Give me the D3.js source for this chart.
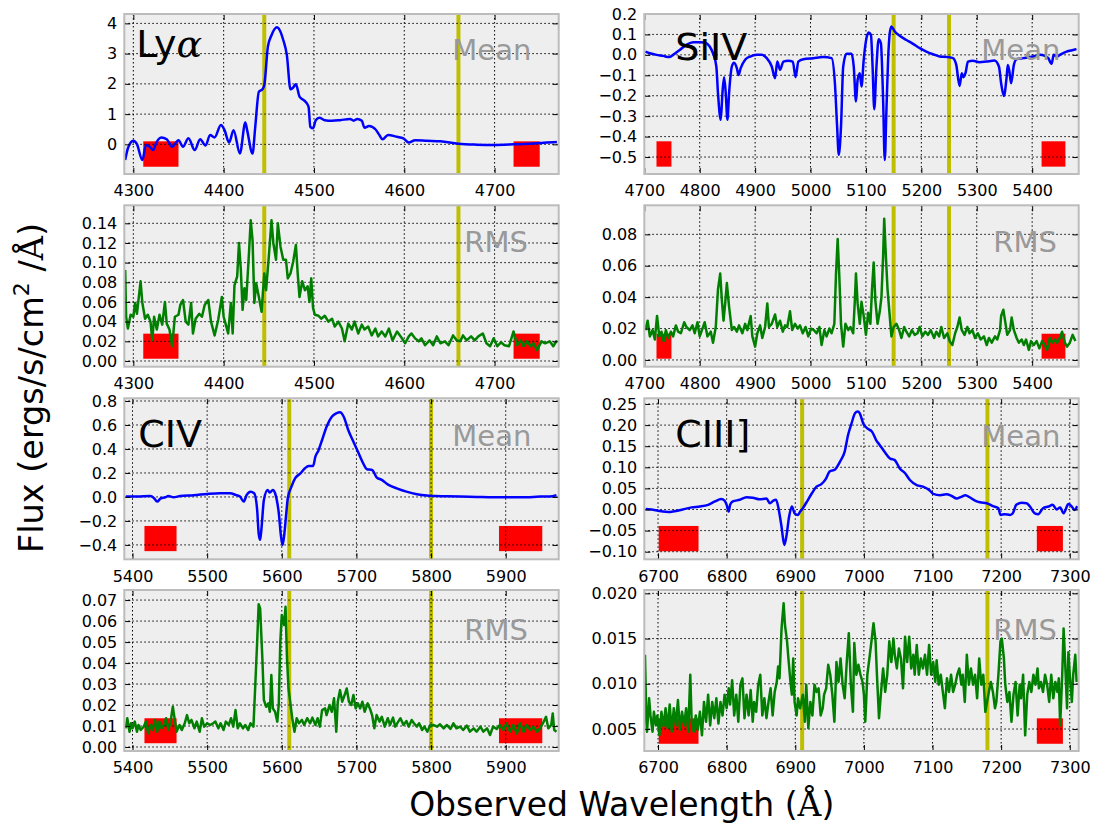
<!DOCTYPE html>
<html><head><meta charset="utf-8">
<script src="https://cdn.jsdelivr.net/npm/d3@7"></script>
<style>body{margin:0;background:#fff}svg{display:block}text{font-family:"DejaVu Sans",sans-serif}</style>
</head><body>
<svg id="c" width="1096" height="823"></svg>
<script>
// ---------- DATA ----------
const lineNames = ["Ly", "SiIV", "CIV", "CIII]"];
const xDomains = [[4290, 4771], [4700, 5484], [5389, 5971], [6680, 7313]];
const xTickValues = [
  [4300, 4400, 4500, 4600, 4700],
  [4700, 4800, 4900, 5000, 5100, 5200, 5300, 5400],
  [5400, 5500, 5600, 5700, 5800, 5900],
  [6700, 6800, 6900, 7000, 7100, 7200, 7300]
];
const meanYDomains = [[-0.98, 4.31], [-0.583, 0.2], [-0.52, 0.8225], [-0.118, 0.2635]];
const rmsYDomains = [[-0.0058, 0.1583], [-0.0043, 0.0985], [-0.0019, 0.0748], [0.00257, 0.02037]];
const meanYTicks = [
  [0, 1, 2, 3, 4],
  [-0.5, -0.4, -0.3, -0.2, -0.1, 0.0, 0.1, 0.2],
  [-0.4, -0.2, 0.0, 0.2, 0.4, 0.6, 0.8],
  [-0.10, -0.05, 0.00, 0.05, 0.10, 0.15, 0.20, 0.25]
];
const meanYDecimals = [0, 1, 1, 2];
const rmsYTicks = [
  [0.00, 0.02, 0.04, 0.06, 0.08, 0.10, 0.12, 0.14],
  [0.00, 0.02, 0.04, 0.06, 0.08],
  [0.00, 0.01, 0.02, 0.03, 0.04, 0.05, 0.06, 0.07],
  [0.005, 0.010, 0.015, 0.020]
];
const rmsYDecimals = [2, 2, 2, 3];
const lineWindows = [[4445, 4660], [5150, 5250], [5610, 5800], [6910, 7180]];
const contWindows = [
  [[4311, 4350], [4721, 4750]],
  [[4722, 4749], [5417, 5460]],
  [[5416, 5459], [5891, 5949]],
  [[6701, 6759], [7252, 7290]]
];
const meanBoxY = [[-0.74, 0.10], [-0.547, -0.423], [-0.452, -0.242], [-0.099, -0.039]];
const rmsBoxY = [[0.0023, 0.0278], [0.0008, 0.0167], [0.0018, 0.0137], [0.00337, 0.00618]];

const lyaMean = [[4291,-0.52],[4294,-0.13],[4300,0.12],[4304,0.01],[4310,-0.52],[4314,-0.02],[4318,-0.08],[4322,-0.19],[4325,0.03],[4331,0.23],[4337,0.17],[4343,-0.08],[4350,0.14],[4355,-0.08],[4361,0.2],[4368,-0.19],[4374,0.17],[4380,-0.04],[4385,0.31],[4390,0.23],[4397,0.64],[4401,0.47],[4406,0.06],[4411,0.47],[4418,-0.3],[4424,0.72],[4426,0.47],[4432,-0.3],[4435,0.58],[4439,1.74],[4443,1.82],[4445,1.96],[4449,3.23],[4453,3.61],[4459,3.87],[4461,3.83],[4466,3.45],[4470,2.95],[4474,1.82],[4477,1.88],[4480,1.99],[4484,1.58],[4490,1.43],[4494,1.25],[4496,0.58],[4499,0.53],[4502,0.8],[4506,0.88],[4512,0.8],[4520,0.78],[4529,0.8],[4540,0.84],[4544,0.78],[4548,0.84],[4553,0.78],[4556,0.55],[4561,0.61],[4568,0.5],[4572,0.33],[4576,0.17],[4582,0.31],[4592,0.25],[4599,0.2],[4605,0.06],[4612,0.14],[4625,0.12],[4640,0.1],[4660,0.02],[4680,-0.01],[4699,-0.02],[4721,0],[4743,0.03],[4758,0.06],[4769,0.08]];

const lyaRms = [[4291,0.0925],[4292,0.045],[4294,0.033],[4297,0.047],[4300,0.045],[4302,0.059],[4304,0.048],[4308,0.081],[4310,0.059],[4313,0.043],[4316,0.047],[4319,0.040],[4321,0.021],[4323,0.045],[4326,0.032],[4329,0.047],[4332,0.037],[4335,0.060],[4337,0.038],[4340,0.032],[4343,0.015],[4346,0.045],[4350,0.047],[4352,0.057],[4355,0.062],[4358,0.040],[4361,0.037],[4364,0.059],[4366,0.028],[4369,0.043],[4373,0.048],[4376,0.045],[4379,0.057],[4383,0.062],[4386,0.040],[4390,0.026],[4394,0.042],[4398,0.065],[4400,0.045],[4403,0.035],[4405,0.028],[4408,0.059],[4410,0.028],[4412,0.077],[4415,0.086],[4417,0.120],[4419,0.093],[4421,0.052],[4423,0.074],[4425,0.062],[4428,0.109],[4430,0.143],[4432,0.123],[4434,0.059],[4436,0.079],[4439,0.065],[4442,0.050],[4445,0.089],[4447,0.072],[4450,0.106],[4453,0.143],[4455,0.120],[4458,0.103],[4460,0.140],[4463,0.116],[4466,0.103],[4469,0.103],[4471,0.084],[4474,0.089],[4477,0.101],[4480,0.118],[4482,0.089],[4484,0.065],[4487,0.081],[4490,0.072],[4493,0.076],[4495,0.060],[4497,0.084],[4499,0.054],[4501,0.047],[4505,0.046],[4508,0.043],[4512,0.046],[4516,0.040],[4520,0.043],[4523,0.035],[4527,0.040],[4531,0.033],[4534,0.020],[4538,0.038],[4542,0.032],[4545,0.040],[4549,0.028],[4553,0.037],[4556,0.032],[4560,0.035],[4564,0.026],[4568,0.033],[4571,0.025],[4575,0.030],[4579,0.025],[4583,0.033],[4587,0.021],[4592,0.030],[4596,0.025],[4601,0.018],[4605,0.025],[4608,0.028],[4612,0.023],[4616,0.020],[4619,0.023],[4623,0.016],[4628,0.021],[4632,0.016],[4636,0.025],[4640,0.018],[4645,0.020],[4649,0.016],[4654,0.026],[4658,0.021],[4662,0.020],[4665,0.026],[4669,0.021],[4674,0.025],[4678,0.021],[4682,0.025],[4687,0.028],[4691,0.018],[4695,0.015],[4699,0.023],[4703,0.015],[4707,0.019],[4711,0.016],[4716,0.015],[4721,0.030],[4725,0.016],[4729,0.021],[4732,0.015],[4736,0.020],[4740,0.015],[4743,0.018],[4747,0.011],[4752,0.020],[4756,0.018],[4761,0.020],[4765,0.015],[4769,0.021]];

const siivMean = [[4702,0.016],[4710,0.008],[4722,0],[4734,-0.005],[4745,-0.011],[4752,0],[4764,0.024],[4776,0.049],[4788,0.062],[4800,0.062],[4809,0.06],[4818,0.041],[4824,0.008],[4830,-0.057],[4833,-0.188],[4838,-0.318],[4841,-0.188],[4844,-0.109],[4847,-0.188],[4850,-0.318],[4853,-0.188],[4858,-0.057],[4862,-0.038],[4867,-0.065],[4870,-0.098],[4874,-0.065],[4882,-0.024],[4891,-0.008],[4903,0],[4912,0],[4921,-0.016],[4930,-0.057],[4936,-0.114],[4940,-0.033],[4945,-0.073],[4951,-0.033],[4960,-0.029],[4968,-0.033],[4973,-0.109],[4978,-0.033],[4987,-0.021],[5005,-0.016],[5023,-0.011],[5038,-0.016],[5044,-0.139],[5048,-0.351],[5051,-0.489],[5055,-0.351],[5059,-0.057],[5065,0.005],[5074,0.005],[5078,-0.057],[5082,-0.228],[5085,-0.122],[5089,-0.09],[5092,-0.155],[5096,-0.024],[5101,0.082],[5105,0.109],[5109,0.098],[5112,-0.057],[5115,-0.266],[5119,-0.057],[5123,0.077],[5127,0.057],[5131,-0.22],[5134,-0.514],[5137,-0.269],[5140,-0.024],[5143,0.106],[5146,0.139],[5152,0.114],[5161,0.093],[5173,0.073],[5185,0.054],[5197,0.033],[5209,0.016],[5221,0.003],[5233,-0.008],[5248,-0.011],[5257,-0.016],[5263,-0.049],[5269,-0.152],[5273,-0.09],[5276,-0.109],[5280,-0.086],[5284,-0.033],[5293,-0.029],[5305,-0.036],[5317,-0.033],[5332,-0.028],[5340,-0.057],[5344,-0.139],[5349,-0.201],[5354,-0.106],[5356,-0.049],[5359,-0.082],[5362,-0.139],[5367,-0.049],[5372,-0.021],[5384,-0.016],[5402,-0.008],[5414,0],[5423,-0.005],[5429,-0.016],[5435,-0.044],[5439,0],[5445,-0.008],[5450,0],[5462,0.016],[5474,0.024],[5480,0.028]];

const siivRms = [[4702,0.019],[4706,0.025],[4710,0.015],[4715,0.019],[4719,0.013],[4723,0.028],[4727,0.015],[4731,0.018],[4735,0.012],[4739,0.019],[4743,0.014],[4748,0.018],[4752,0.015],[4757,0.022],[4761,0.018],[4766,0.017],[4772,0.024],[4776,0.021],[4782,0.019],[4787,0.022],[4791,0.017],[4796,0.024],[4800,0.015],[4805,0.020],[4809,0.024],[4814,0.015],[4820,0.018],[4824,0.011],[4829,0.021],[4833,0.045],[4837,0.055],[4840,0.038],[4843,0.025],[4846,0.036],[4849,0.049],[4853,0.034],[4858,0.019],[4862,0.021],[4867,0.018],[4871,0.022],[4877,0.017],[4882,0.023],[4886,0.019],[4892,0.028],[4895,0.015],[4900,0.0085],[4904,0.017],[4909,0.022],[4913,0.014],[4918,0.021],[4922,0.036],[4925,0.021],[4930,0.023],[4936,0.029],[4940,0.021],[4945,0.025],[4950,0.018],[4954,0.022],[4958,0.021],[4963,0.031],[4967,0.019],[4972,0.023],[4977,0.020],[4981,0.022],[4986,0.017],[4991,0.021],[4996,0.015],[5001,0.020],[5006,0.019],[5011,0.017],[5016,0.021],[5020,0.0095],[5025,0.019],[5029,0.015],[5034,0.020],[5038,0.017],[5043,0.023],[5046,0.055],[5049,0.077],[5052,0.053],[5055,0.023],[5059,0.0085],[5063,0.023],[5068,0.019],[5072,0.021],[5077,0.017],[5080,0.038],[5082,0.055],[5085,0.036],[5089,0.023],[5092,0.037],[5096,0.028],[5100,0.016],[5104,0.030],[5108,0.023],[5111,0.045],[5114,0.062],[5117,0.038],[5121,0.023],[5125,0.031],[5128,0.040],[5131,0.066],[5133,0.090],[5136,0.066],[5139,0.045],[5142,0.032],[5146,0.015],[5150,0.021],[5155,0.023],[5160,0.019],[5164,0.014],[5169,0.021],[5173,0.018],[5178,0.015],[5183,0.019],[5188,0.016],[5193,0.017],[5197,0.021],[5202,0.015],[5207,0.018],[5212,0.016],[5217,0.019],[5223,0.014],[5227,0.018],[5232,0.015],[5236,0.021],[5241,0.014],[5247,0.017],[5251,0.012],[5256,0.0095],[5261,0.017],[5265,0.021],[5269,0.027],[5273,0.019],[5278,0.016],[5283,0.021],[5287,0.017],[5292,0.019],[5297,0.014],[5302,0.017],[5307,0.013],[5313,0.015],[5318,0.0095],[5322,0.014],[5327,0.011],[5333,0.015],[5337,0.013],[5342,0.019],[5344,0.028],[5348,0.032],[5352,0.023],[5355,0.016],[5360,0.019],[5363,0.027],[5367,0.019],[5372,0.014],[5376,0.011],[5381,0.013],[5385,0.0095],[5389,0.013],[5394,0.0064],[5398,0.012],[5403,0.0095],[5408,0.012],[5413,0.0074],[5418,0.012],[5423,0.0095],[5427,0.0064],[5432,0.014],[5436,0.011],[5441,0.013],[5445,0.011],[5450,0.014],[5454,0.018],[5459,0.011],[5463,0.0085],[5468,0.011],[5473,0.016],[5478,0.012]];

const civMean = [[5391,0.003],[5406,0.003],[5424,0.008],[5429,-0.011],[5433,-0.039],[5438,-0.011],[5444,-0.003],[5448,0.008],[5455,-0.003],[5464,0.008],[5482,0.014],[5500,0.025],[5517,0.031],[5531,0.031],[5538,0.017],[5544,0.003],[5549,-0.039],[5553,0.017],[5558,0.044],[5563,0.031],[5567,-0.108],[5569,-0.303],[5571,-0.358],[5573,-0.247],[5576,-0.025],[5581,0.058],[5584,0.036],[5588,0.058],[5591,0.031],[5596,-0.136],[5599,-0.331],[5601,-0.4],[5603,-0.331],[5606,-0.136],[5608,-0.011],[5613,0.086],[5618,0.156],[5625,0.197],[5631,0.239],[5636,0.258],[5642,0.258],[5645,0.336],[5649,0.386],[5654,0.475],[5660,0.586],[5667,0.669],[5673,0.697],[5678,0.706],[5683,0.669],[5689,0.558],[5696,0.461],[5703,0.364],[5709,0.281],[5714,0.231],[5721,0.225],[5727,0.164],[5734,0.142],[5743,0.1],[5754,0.072],[5767,0.044],[5781,0.022],[5794,0.011],[5805,0.008],[5821,0.006],[5839,0.003],[5861,0],[5883,-0.003],[5906,-0.003],[5928,-0.003],[5946,0.003],[5959,0.003],[5968,0.014]];

const civRms = [[5391,0.0089],[5393,0.0137],[5396,0.0073],[5398,0.0113],[5400,0.0089],[5403,0.0121],[5406,0.0073],[5408,0.0105],[5411,0.0081],[5415,0.0097],[5418,0.0121],[5421,0.0065],[5424,0.0105],[5427,0.0081],[5430,0.0129],[5433,0.0073],[5436,0.0121],[5439,0.0089],[5442,0.0105],[5445,0.0137],[5448,0.0081],[5451,0.0121],[5454,0.0192],[5457,0.0121],[5459,0.0073],[5463,0.0105],[5466,0.0081],[5470,0.0113],[5473,0.0152],[5476,0.0113],[5479,0.0129],[5483,0.0089],[5486,0.0121],[5490,0.0073],[5493,0.0137],[5496,0.0097],[5500,0.0113],[5504,0.0105],[5508,0.0113],[5511,0.0121],[5515,0.0089],[5518,0.0113],[5522,0.0081],[5525,0.0121],[5529,0.0105],[5532,0.0137],[5535,0.0097],[5538,0.0176],[5541,0.0089],[5544,0.0113],[5548,0.0089],[5551,0.0105],[5555,0.0081],[5558,0.0113],[5562,0.0097],[5564,0.0256],[5567,0.050],[5569,0.068],[5571,0.066],[5574,0.042],[5576,0.0224],[5579,0.0192],[5582,0.0208],[5584,0.0168],[5586,0.0343],[5588,0.0184],[5591,0.0168],[5594,0.0121],[5596,0.0208],[5598,0.050],[5600,0.0629],[5603,0.0581],[5605,0.0668],[5607,0.0422],[5609,0.0279],[5614,0.0137],[5617,0.0073],[5620,0.0137],[5623,0.0113],[5627,0.0129],[5630,0.0105],[5634,0.0137],[5638,0.0113],[5641,0.0140],[5645,0.0105],[5648,0.0137],[5651,0.0097],[5654,0.0176],[5658,0.0184],[5660,0.0152],[5664,0.0200],[5667,0.0168],[5670,0.0232],[5673,0.0073],[5675,0.0216],[5678,0.0271],[5681,0.0216],[5685,0.0256],[5687,0.0279],[5690,0.0216],[5693,0.0200],[5696,0.0248],[5699,0.0184],[5702,0.0208],[5705,0.0184],[5708,0.0216],[5711,0.0168],[5715,0.0208],[5718,0.0184],[5721,0.0152],[5724,0.0089],[5727,0.0152],[5731,0.0121],[5734,0.0144],[5738,0.0097],[5742,0.0137],[5745,0.0105],[5749,0.0140],[5752,0.0097],[5756,0.0121],[5759,0.0137],[5763,0.0105],[5767,0.0124],[5770,0.0097],[5774,0.0129],[5777,0.0113],[5781,0.0097],[5784,0.0113],[5788,0.0081],[5791,0.0097],[5795,0.0073],[5799,0.0105],[5803,0.0105],[5808,0.0097],[5812,0.0108],[5817,0.0089],[5821,0.0105],[5826,0.0086],[5830,0.0113],[5834,0.0089],[5839,0.0097],[5843,0.0081],[5848,0.0102],[5852,0.0073],[5857,0.0089],[5861,0.0073],[5866,0.0097],[5870,0.0073],[5875,0.0089],[5879,0.0057],[5883,0.0097],[5888,0.0086],[5892,0.0105],[5897,0.0081],[5901,0.0113],[5906,0.0073],[5910,0.0105],[5915,0.0065],[5919,0.0113],[5924,0.0073],[5928,0.0105],[5933,0.0081],[5937,0.0097],[5942,0.0073],[5946,0.0089],[5951,0.0121],[5954,0.0144],[5957,0.0089],[5961,0.0105],[5963,0.0160],[5965,0.0081],[5968,0.0073]];

const ciiiMean = [[6682,0.001],[6690,0],[6700,-0.003],[6707,-0.005],[6715,-0.006],[6724,-0.004],[6736,0],[6749,0.005],[6761,0.007],[6773,0.011],[6783,0.019],[6792,0.025],[6797,0.021],[6800,0.011],[6803,-0.005],[6805,0.011],[6809,0.019],[6819,0.023],[6829,0.029],[6838,0.028],[6848,0.024],[6858,0.026],[6863,0.015],[6868,0.021],[6872,0.023],[6876,-0.001],[6880,-0.041],[6884,-0.084],[6887,-0.064],[6891,-0.017],[6895,0.007],[6899,-0.009],[6904,-0.013],[6907,-0.005],[6911,0.003],[6916,0.016],[6924,0.038],[6931,0.054],[6938,0.06],[6945,0.074],[6950,0.09],[6958,0.095],[6965,0.113],[6972,0.137],[6977,0.177],[6982,0.204],[6987,0.228],[6991,0.232],[6994,0.228],[6999,0.204],[7005,0.192],[7012,0.184],[7018,0.164],[7023,0.153],[7030,0.137],[7038,0.121],[7045,0.117],[7052,0.098],[7060,0.086],[7067,0.07],[7077,0.058],[7086,0.054],[7096,0.045],[7101,0.037],[7111,0.034],[7120,0.036],[7128,0.032],[7135,0.026],[7142,0.03],[7148,0.034],[7154,0.029],[7162,0.021],[7169,0.017],[7179,0.015],[7188,0.008],[7196,0.003],[7199,-0.013],[7205,-0.011],[7213,-0.013],[7217,-0.009],[7222,0.011],[7230,0.016],[7237,0.015],[7242,0.007],[7249,-0.009],[7254,-0.011],[7261,0.003],[7269,0.007],[7275,0.011],[7281,0],[7286,0.005],[7291,-0.009],[7298,0.013],[7303,0.007],[7307,-0.001],[7311,0.008]];

const ciiiRms = [[6681,0.0132],[6683,0.0058],[6684,0.0047],[6687,0.0084],[6689,0.0065],[6692,0.0047],[6694,0.0069],[6697,0.0054],[6699,0.0065],[6702,0.0043],[6705,0.0069],[6708,0.0053],[6711,0.0073],[6714,0.0051],[6717,0.0077],[6720,0.0047],[6723,0.0073],[6726,0.0054],[6729,0.0082],[6732,0.0049],[6735,0.0069],[6738,0.0054],[6741,0.0073],[6744,0.0047],[6747,0.0110],[6749,0.0058],[6752,0.0047],[6755,0.0065],[6758,0.0049],[6761,0.0069],[6764,0.0043],[6767,0.0080],[6770,0.0058],[6773,0.0088],[6776,0.0054],[6779,0.0080],[6782,0.0062],[6785,0.0084],[6788,0.0056],[6791,0.0080],[6794,0.0065],[6797,0.0088],[6800,0.0073],[6803,0.0095],[6805,0.0077],[6808,0.0104],[6811,0.0065],[6814,0.0088],[6817,0.0058],[6820,0.0099],[6823,0.0106],[6826,0.0062],[6829,0.0088],[6832,0.0065],[6835,0.0093],[6838,0.0058],[6840,0.0080],[6843,0.0069],[6846,0.0099],[6849,0.0110],[6852,0.0065],[6855,0.0084],[6858,0.0062],[6861,0.0080],[6864,0.0095],[6867,0.0065],[6870,0.0091],[6873,0.0102],[6875,0.0119],[6877,0.0106],[6880,0.0161],[6883,0.0189],[6885,0.0165],[6888,0.0147],[6890,0.0128],[6893,0.0102],[6895,0.0088],[6897,0.0128],[6899,0.0080],[6902,0.0065],[6904,0.0084],[6907,0.0073],[6911,0.0088],[6914,0.0058],[6916,0.0099],[6919,0.0051],[6922,0.0080],[6925,0.0065],[6928,0.0099],[6931,0.0091],[6934,0.0095],[6937,0.0065],[6940,0.0073],[6942,0.0088],[6945,0.0095],[6948,0.0121],[6951,0.0110],[6954,0.0088],[6957,0.0058],[6960,0.0124],[6963,0.0102],[6966,0.0128],[6969,0.0099],[6972,0.0084],[6975,0.0124],[6978,0.0156],[6981,0.0099],[6984,0.0069],[6986,0.0145],[6989,0.0110],[6992,0.0121],[6995,0.0110],[6998,0.0102],[7000,0.0088],[7002,0.0058],[7005,0.0110],[7008,0.0128],[7011,0.0147],[7014,0.0167],[7017,0.0147],[7019,0.0110],[7022,0.0062],[7025,0.0091],[7028,0.0117],[7031,0.0091],[7034,0.0110],[7037,0.0147],[7040,0.0124],[7043,0.0150],[7045,0.0132],[7048,0.0117],[7051,0.0139],[7054,0.0128],[7057,0.0095],[7060,0.0152],[7063,0.0124],[7066,0.0152],[7069,0.0117],[7072,0.0132],[7074,0.0110],[7077,0.0143],[7080,0.0110],[7083,0.0128],[7086,0.0117],[7089,0.0132],[7092,0.0110],[7095,0.0143],[7098,0.0110],[7101,0.0124],[7104,0.0102],[7106,0.0126],[7109,0.0099],[7112,0.0110],[7115,0.0091],[7118,0.0073],[7121,0.0106],[7124,0.0091],[7127,0.0110],[7130,0.0091],[7133,0.0099],[7136,0.0110],[7139,0.0117],[7142,0.0099],[7144,0.0110],[7147,0.0080],[7150,0.0132],[7153,0.0099],[7156,0.0117],[7159,0.0099],[7162,0.0110],[7165,0.0084],[7168,0.0128],[7171,0.0099],[7174,0.0110],[7177,0.0069],[7182,0.0091],[7185,0.0102],[7188,0.0091],[7191,0.0073],[7193,0.0080],[7196,0.0110],[7199,0.0147],[7201,0.0150],[7204,0.0128],[7206,0.0099],[7209,0.0080],[7212,0.0091],[7215,0.0058],[7218,0.0088],[7221,0.0102],[7224,0.0065],[7227,0.0099],[7229,0.0084],[7232,0.0110],[7235,0.0043],[7238,0.0088],[7241,0.0102],[7244,0.0091],[7247,0.0110],[7250,0.0099],[7253,0.0117],[7255,0.0095],[7258,0.0102],[7261,0.0091],[7264,0.0110],[7267,0.0099],[7270,0.0080],[7273,0.0110],[7276,0.0084],[7279,0.0102],[7282,0.0091],[7284,0.0106],[7286,0.0054],[7289,0.0110],[7291,0.0161],[7293,0.0128],[7296,0.0073],[7298,0.0135],[7300,0.0110],[7303,0.0080],[7305,0.0110],[7308,0.0132],[7310,0.0102]];

const meanSeries = [lyaMean, siivMean, civMean, ciiiMean];
const rmsSeries = [lyaRms, siivRms, civRms, ciiiRms];

// ---------- LAYOUT ----------
const colX = [[124.3, 558.7], [644.3, 1078.7]];
const rowY = [[14, 174], [205.3, 366.7], [398.3, 559.3], [590, 751]];
const nameOffset = [[12, 43], [31, 46], [14, 48.5], [31, 48.5]];
const tagX = [[328, 340], [337, 349]];
const tagDY = [[45.5, 47], [48, 49.5]];

const svg = d3.select("#c");
const fmtMinus = (dec) => (v) => {
  const s = d3.format("." + dec + "f")(Math.abs(v) < 1e-12 ? 0 : v);
  return s.replace("-", "\u2212");
};

function drawPanel(idx, kind) {
  const col = idx % 2;
  const pairRow = Math.floor(idx / 2);
  const row = pairRow * 2 + (kind === "rms" ? 1 : 0);
  const [x0, x1] = colX[col];
  const [y0, y1] = rowY[row];
  const xs = d3.scaleLinear().domain(xDomains[idx]).range([x0, x1]);
  const yDom = kind === "rms" ? rmsYDomains[idx] : meanYDomains[idx];
  const ys = d3.scaleLinear().domain(yDom).range([y1, y0]);
  const yTicks = kind === "rms" ? rmsYTicks[idx] : meanYTicks[idx];
  const yDec = kind === "rms" ? rmsYDecimals[idx] : meanYDecimals[idx];
  const data = kind === "rms" ? rmsSeries[idx] : meanSeries[idx];
  const boxY = kind === "rms" ? rmsBoxY[idx] : meanBoxY[idx];

  const g = svg.append("g");
  const clipId = "clip" + idx + kind;
  g.append("clipPath").attr("id", clipId).append("rect")
    .attr("x", x0).attr("y", y0).attr("width", x1 - x0).attr("height", y1 - y0);

  g.append("rect").attr("x", x0).attr("y", y0).attr("width", x1 - x0).attr("height", y1 - y0)
    .attr("fill", "#eeeeee");

  const inner = g.append("g").attr("clip-path", `url(#${clipId})`);

  inner.selectAll("rect.cont").data(contWindows[idx]).join("rect")
    .attr("x", d => xs(d[0])).attr("width", d => xs(d[1]) - xs(d[0]))
    .attr("y", ys(boxY[1])).attr("height", ys(boxY[0]) - ys(boxY[1]))
    .attr("fill", "#ff0000");

  inner.selectAll("line.win").data(lineWindows[idx]).join("line")
    .attr("x1", d => xs(d)).attr("x2", d => xs(d)).attr("y1", y0).attr("y2", y1)
    .attr("stroke", "#bfbf00").attr("stroke-width", 4);

  inner.selectAll("line.gx").data(xTickValues[idx]).join("line")
    .attr("x1", d => xs(d)).attr("x2", d => xs(d)).attr("y1", y0).attr("y2", y1)
    .attr("stroke", "#000").attr("stroke-width", 1).attr("stroke-dasharray", "1.5,2.5");
  inner.selectAll("line.gy").data(yTicks).join("line")
    .attr("y1", d => ys(d)).attr("y2", d => ys(d)).attr("x1", x0).attr("x2", x1)
    .attr("stroke", "#000").attr("stroke-width", 1).attr("stroke-dasharray", "1.5,2.5");

  const line = d3.line().x(d => xs(d[0])).y(d => ys(d[1]))
    .curve(kind === "rms" ? d3.curveLinear : d3.curveMonotoneX);
  inner.append("path").attr("d", line(data)).attr("fill", "none")
    .attr("stroke", kind === "rms" ? "#007f00" : "#0000ff")
    .attr("stroke-width", 2.5).attr("stroke-linejoin", "round");

  const styleAxis = (a) => {
    a.select(".domain").remove();
    a.selectAll(".tick line").attr("stroke", "#000").attr("stroke-width", 1);
    a.selectAll("text").attr("font-family", "DejaVu Sans").attr("font-size", 16).attr("fill", "#000");
  };
  g.append("g").attr("transform", `translate(${x0},0)`)
    .call(d3.axisLeft(ys).tickValues(yTicks).tickSize(-6).tickPadding(7).tickFormat(fmtMinus(yDec)))
    .call(styleAxis);
  g.append("g").attr("transform", `translate(${x1},0)`)
    .call(d3.axisRight(ys).tickValues(yTicks).tickSize(-6).tickFormat(""))
    .call(styleAxis);
  g.append("g").attr("transform", `translate(0,${y1})`)
    .call(d3.axisBottom(xs).tickValues(xTickValues[idx]).tickSize(-6).tickPadding(11).tickFormat(d3.format("d")))
    .call(styleAxis);
  g.append("g").attr("transform", `translate(0,${y0})`)
    .call(d3.axisTop(xs).tickValues(xTickValues[idx]).tickSize(-6).tickFormat(""))
    .call(styleAxis);

  g.append("rect").attr("x", x0).attr("y", y0).attr("width", x1 - x0).attr("height", y1 - y0)
    .attr("fill", "none").attr("stroke", "#bcbcbc").attr("stroke-width", 2);

  const tag = kind === "rms" ? "RMS" : "Mean";
  const k = kind === "rms" ? 1 : 0;
  g.append("text").attr("x", x0 + tagX[col][k]).attr("y", y0 + tagDY[pairRow][k])
    .attr("font-size", 29).attr("fill", "#999999").text(tag);

  if (kind === "mean") {
    const t = g.append("text").attr("x", x0 + nameOffset[idx][0]).attr("y", y0 + nameOffset[idx][1])
      .attr("font-size", 38).attr("fill", "#000");
    t.append("tspan").text(lineNames[idx]);
    if (idx === 0) {
      t.append("tspan").attr("font-family", "DejaVu Serif").attr("font-style", "italic").text("\u03b1");
    }
  }
}

for (let i = 0; i < 4; i++) { drawPanel(i, "mean"); drawPanel(i, "rms"); }

const yl = svg.append("text").attr("transform", "translate(43,388) rotate(-90)")
  .attr("text-anchor", "middle").attr("font-size", 33.5).attr("fill", "#000");
yl.append("tspan").text("Flux (ergs/s/cm");
yl.append("tspan").attr("font-size", 22).attr("dy", -14).text("2");
yl.append("tspan").attr("dy", 14).text(" /");
yl.append("tspan").attr("font-family", "DejaVu Serif").text("\u00c5");
yl.append("tspan").text(")");

const xl = svg.append("text").attr("x", 621.7).attr("y", 816)
  .attr("text-anchor", "middle").attr("font-size", 33).attr("fill", "#000");
xl.append("tspan").text("Observed Wavelength (");
xl.append("tspan").attr("font-family", "DejaVu Serif").text("\u00c5");
xl.append("tspan").text(")");
</script>
</body></html>
